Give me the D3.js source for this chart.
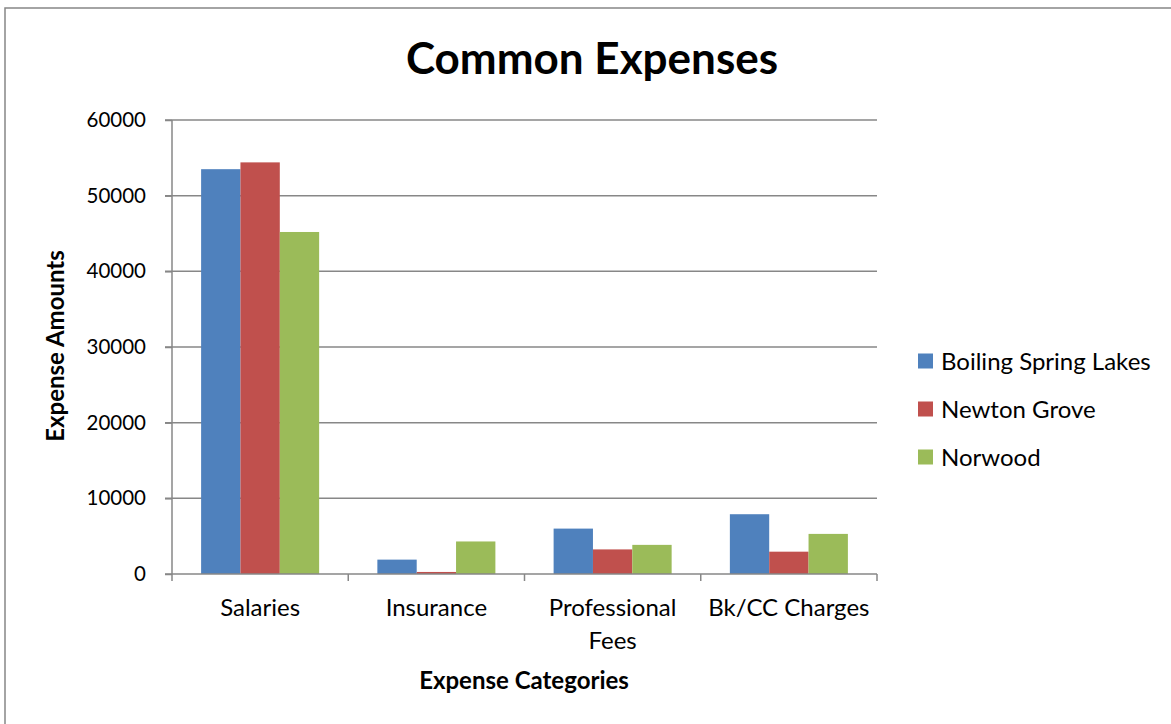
<!DOCTYPE html>
<html>
<head>
<meta charset="utf-8">
<script src="https://cdn.jsdelivr.net/npm/d3@7"></script>
<style>
  body { margin: 0; background: #fff; }
  svg { display: block; font-family: Lato, "Open Sans", sans-serif; }
</style>
</head>
<body>
<svg id="chart" width="1171" height="724"></svg>
<script>
const categories = ["Salaries", "Insurance", "Professional Fees", "Bk/CC Charges"]
const seriesNames = ["Boiling Spring Lakes", "Newton Grove", "Norwood"]
const boilingSpring = [53500, 1900, 6000, 7900]
const newtonGrove = [54400, 270, 3250, 2950]
const norwood = [45200, 4300, 3850, 5300]
const yTicks = [0, 10000, 20000, 30000, 40000, 50000, 60000]
const colors = ["#4f81bd", "#c0504d", "#9bbb59"]

const seriesValues = [boilingSpring, newtonGrove, norwood]

const svg = d3.select("#chart")
const margin = { top: 120, right: 294, bottom: 150, left: 172 }
const width = +svg.attr("width") - margin.left - margin.right
const height = 574 - margin.top

// outer chart border (right and bottom fall off the page)
svg.append("rect")
  .attr("x", 5).attr("y", 8)
  .attr("width", 1200).attr("height", 760)
  .attr("fill", "none").attr("stroke", "#878787").attr("stroke-width", 1.5)

svg.append("text")
  .attr("x", 592).attr("y", 74)
  .attr("text-anchor", "middle")
  .attr("font-size", 44).attr("font-weight", "bold")
  .text("Common Expenses")

const g = svg.append("g").attr("transform", `translate(${margin.left},${margin.top})`)

const x0 = d3.scaleBand().domain(categories).range([0, width]).paddingInner(0).paddingOuter(0)
const x1 = d3.scaleBand().domain(seriesNames).range([0, x0.bandwidth()]).paddingOuter(0.74)
const y = d3.scaleLinear().domain([0, 60000]).range([height, 0])

// gridlines
g.append("g").selectAll("line").data(yTicks.filter(d => d > 0)).join("line")
  .attr("x1", -7).attr("x2", width)
  .attr("y1", d => y(d)).attr("y2", d => y(d))
  .attr("stroke", "#878787").attr("stroke-width", 1.5)

// bars
const groups = g.append("g").selectAll("g").data(categories).join("g")
  .attr("transform", d => `translate(${x0(d)},0)`)

groups.selectAll("rect")
  .data((c, i) => seriesNames.map((s, j) => ({ s, v: seriesValues[j][i], j })))
  .join("rect")
  .attr("x", d => x1(d.s))
  .attr("width", x1.bandwidth())
  .attr("y", d => y(d.v))
  .attr("height", d => y(0) - y(d.v))
  .attr("fill", d => colors[d.j])

// y axis
const yAxis = g.append("g")
  .call(d3.axisLeft(y).tickValues(yTicks).tickSize(7).tickPadding(19).tickFormat(d3.format("d")))
yAxis.select(".domain").attr("stroke", "#878787").attr("stroke-width", 1.5).attr("d", `M0,0V${height}`)
yAxis.selectAll(".tick line").attr("stroke", "#878787").attr("stroke-width", 1.5)
yAxis.selectAll(".tick text").attr("font-size", 20.5).attr("fill", "#000").attr("font-family", "Lato, sans-serif")

// x axis
const xAxis = g.append("g").attr("transform", `translate(0,${height})`)
xAxis.append("line").attr("x1", -7).attr("x2", width)
  .attr("stroke", "#878787").attr("stroke-width", 1.5)
xAxis.selectAll(".sep").data(d3.range(categories.length + 1)).join("line")
  .attr("class", "sep")
  .attr("x1", i => i * x0.bandwidth()).attr("x2", i => i * x0.bandwidth())
  .attr("y1", 0).attr("y2", 7)
  .attr("stroke", "#878787").attr("stroke-width", 1.5)

const catLines = { "Professional Fees": ["Professional", "Fees"] }
xAxis.selectAll(".cat").data(categories).join("text")
  .attr("class", "cat")
  .attr("text-anchor", "middle")
  .attr("font-size", 24)
  .attr("transform", d => `translate(${x0(d) + x0.bandwidth() / 2},42)`)
  .each(function (d) {
    const lines = catLines[d] || [d]
    d3.select(this).selectAll("tspan").data(lines).join("tspan")
      .attr("x", 0).attr("dy", (l, i) => i ? 33 : 0).text(l => l)
  })

svg.append("text")
  .attr("x", 524).attr("y", 689)
  .attr("text-anchor", "middle")
  .attr("font-size", 24).attr("font-weight", "bold")
  .text("Expense Categories")

svg.append("text")
  .attr("transform", "translate(64,346) rotate(-90)")
  .attr("text-anchor", "middle")
  .attr("font-size", 24).attr("font-weight", "bold")
  .text("Expense Amounts")

// legend
const legend = svg.append("g").attr("transform", "translate(918,361)")
const items = legend.selectAll("g").data(seriesNames).join("g")
  .attr("transform", (d, i) => `translate(0,${i * 48})`)
items.append("rect").attr("x", 0).attr("y", -7.5).attr("width", 15).attr("height", 15)
  .attr("fill", (d, i) => colors[i])
items.append("text").attr("x", 23).attr("y", 8.5).attr("font-size", 24).text(d => d)
</script>
</body>
</html>
